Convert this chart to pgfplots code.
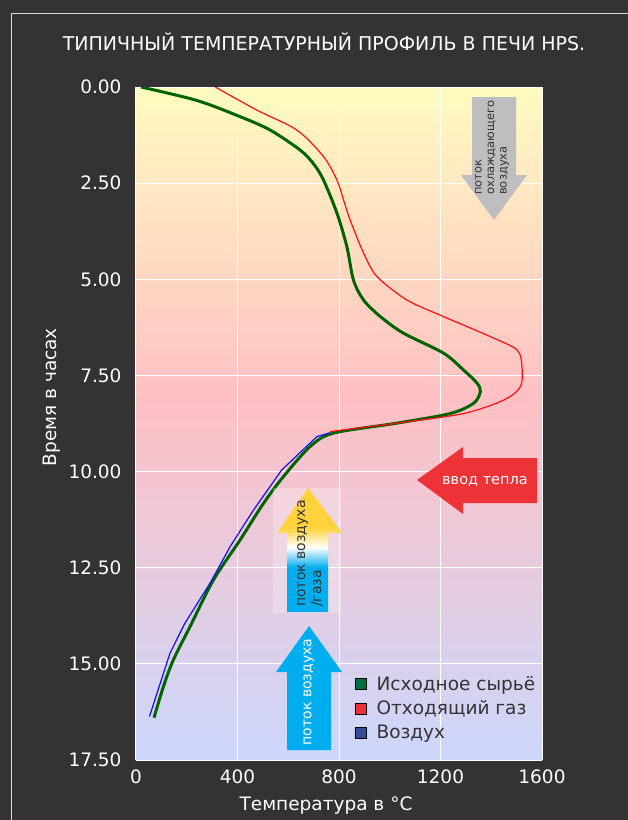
\documentclass[border=0pt]{standalone}
\usepackage{fontspec}
\setmainfont{DejaVu Sans}
\usepackage{pgfplots}
\pgfplotsset{compat=1.18}

\definecolor{bg}{HTML}{353233}
\definecolor{frameline}{HTML}{D8D8D8}
\definecolor{feed}{HTML}{006400}
\definecolor{gas}{HTML}{FF1010}
\definecolor{air}{HTML}{1010EE}
\definecolor{feedleg}{HTML}{007040}
\definecolor{gasleg}{HTML}{EE3338}
\definecolor{airleg}{HTML}{354C99}
\definecolor{cool}{HTML}{BEBEC0}
\definecolor{heat}{HTML}{EE3338}
\definecolor{airflow}{HTML}{00AEEF}
\definecolor{gold}{HTML}{FFD23C}
\definecolor{txt}{HTML}{333333}
\definecolor{bgtop}{HTML}{FFFBC0}
\definecolor{bgmid}{HTML}{FFC0C3}
\definecolor{bgbot}{HTML}{CCD7FC}

\pgfdeclareverticalshading{airgas}{100bp}{color(0bp)=(airflow); color(25bp)=(airflow); color(43bp)=(airflow); color(51bp)=(white); color(59bp)=(gold); color(75bp)=(gold); color(100bp)=(gold)}
\pgfdeclareverticalshading{plotbg}{100bp}{color(0bp)=(bgbot); color(25bp)=(bgbot); color(52bp)=(bgmid); color(75bp)=(bgtop); color(100bp)=(bgtop)}

\begin{document}
\begin{tikzpicture}
\useasboundingbox (0pt,0pt) rectangle (628pt,-820pt);
\fill[bg] (0pt,0pt) rectangle (628pt,-820pt);
\draw[frameline, line width=1pt] (11.5pt,-820pt) -- (11.5pt,-13.5pt) -- (628pt,-13.5pt);
\node[white, font=\fontsize{19}{22}\selectfont] at (324pt,-42pt) {ТИПИЧНЫЙ ТЕМПЕРАТУРНЫЙ ПРОФИЛЬ В ПЕЧИ HPS.};

\begin{axis}[
  at={(136pt,-760pt)}, anchor=south west,
  scale only axis, width=406pt, height=673pt,
  xmin=0, xmax=1600, ymin=0, ymax=17.5, y dir=reverse,
  xtick={0,400,800,1200,1600},
  ytick={0,2.5,5,7.5,10,12.5,15,17.5},
  axis line style={draw=none},
  major tick length=0pt,
  grid=major,
  major grid style={white, line width=1pt},
  axis background/.style={shading=plotbg},
  /pgf/number format/assume math mode=true,
  /pgf/number format/1000 sep={},
  tick label style={text=white, font=\fontsize{18.5}{20}\selectfont},
  yticklabel style={/pgf/number format/fixed, /pgf/number format/fixed zerofill, /pgf/number format/precision=2, xshift=-11pt},
  xticklabel style={yshift=-6pt},
  xlabel={Температура в °C},
  ylabel={Время в часах},
  label style={text=white, font=\fontsize{18.5}{21}\selectfont},
  xlabel style={at={(axis description cs:0.468,-0.068)}, anchor=center},
  ylabel style={at={(axis description cs:-0.207,0.539)}, anchor=center},
  legend cell align=left,
  legend style={draw=none, fill=none, at={(axis description cs:0.532,0.131)}, anchor=north west,
    font=\fontsize{18.5}{20}\selectfont, text=txt, row sep=5pt,
    /tikz/every odd column/.append style={column sep=8pt}},
  legend image code/.code={\fill[#1] (0pt,-5.5pt) rectangle (11pt,5.5pt);},
]
% Исходное сырьё
\addplot[feed, line width=3pt, smooth, forget plot] coordinates {
  (20,0) (240,0.35) (410,0.77) (529,1.12) (647,1.64) (700,2.0) (739,2.42)
  (792,3.28) (831,4.15) (857,5.02) (897,5.54) (963,5.97) (1054,6.40)
  (1212,6.92) (1291,7.36) (1344,7.70) (1357,7.92) (1331,8.22) (1239,8.49)
  (1028,8.74) (778,9.0) (686,9.35) (581,10.13) (502,10.83) (410,11.78)
  (305,12.82) (213,14.03) (147,14.9) (108,15.59) (71,16.4)
};
% Отходящий газ
\addplot[gas, line width=1.2pt, smooth, forget plot] coordinates {
  (312,0) (476,0.6) (634,1.12) (739,1.81) (792,2.42) (818,2.94) (844,3.46)
  (897,4.32) (950,4.93) (1068,5.54) (1212,5.97) (1396,6.49) (1502,6.84)
  (1521,7.27) (1515,7.79) (1449,8.14) (1291,8.49) (1050,8.72) (765,8.96)
};
% Воздух
\addplot[air, line width=1.2pt, forget plot] coordinates {
  (765,8.99) (713,9.09) (574,9.96) (463,11.0) (371,11.95) (292,12.9)
  (193,13.94) (134,14.72) (53,16.37)
};
\addlegendimage{fill=feedleg}
\addlegendentry{Исходное сырьё}
\addlegendimage{fill=gasleg}
\addlegendentry{Отходящий газ}
\addlegendimage{fill=airleg}
\addlegendentry{Воздух}
\end{axis}

\begin{scope}[x=1pt, y=-1pt]
% поток охлаждающего воздуха
\fill[cool] (472,97) -- (516,97) -- (516,175) -- (527,175) -- (494,220) -- (461,175) -- (472,175) -- cycle;
\node[rotate=90, anchor=north west, inner sep=0pt, align=left, text=txt, font=\fontsize{11.5}{12.5}\selectfont] at (475,195) {поток\\охлаждающего\\воздуха};
% ввод тепла
\fill[heat] (417,480) -- (463,447) -- (463,458) -- (537,458) -- (537,503) -- (463,503) -- (463,514) -- cycle;
\node[text=white, font=\fontsize{14.5}{16}\selectfont] at (485,481) {ввод тепла};
% поток воздуха/газа
\fill[white, opacity=0.25] (273,488) rectangle (341,613);
\shade[shading=airgas] (308,488) -- (342,533) -- (328,533) -- (328,612) -- (287,612) -- (287,533) -- (277,533) -- cycle;
\node[rotate=90, anchor=north west, inner sep=0pt, align=left, text=txt, font=\fontsize{14}{16}\selectfont] at (297,607) {поток воздуха\\/газа};
% поток воздуха
\fill[airflow] (309,626) -- (342,672) -- (331,672) -- (331,750) -- (287,750) -- (287,672) -- (276,672) -- cycle;
\node[rotate=90, text=white, font=\fontsize{14}{16}\selectfont] at (309,692) {поток воздуха};
\end{scope}
\end{tikzpicture}
\end{document}
